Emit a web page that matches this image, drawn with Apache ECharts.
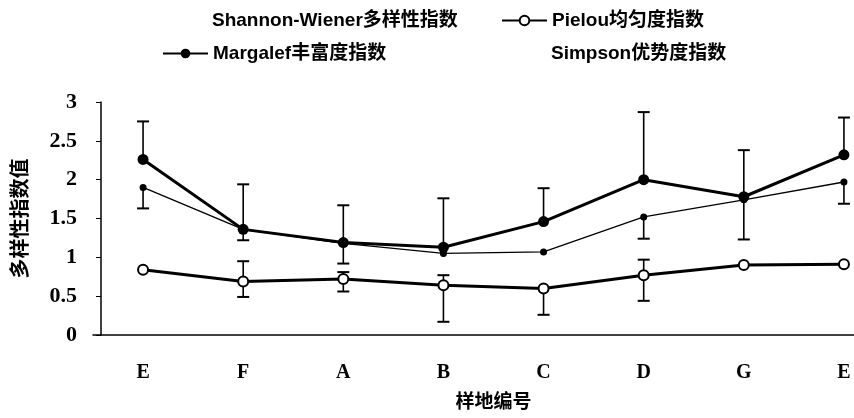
<!DOCTYPE html>
<html>
<head>
<meta charset="utf-8">
<script src="https://cdn.jsdelivr.net/npm/echarts@6/dist/echarts.min.js"></script>
<style>html,body{margin:0;padding:0;background:#fff}#c{width:854px;height:418px}</style>
</head>
<body>
<div id="c"></div>
<script>
const categories = ['E', 'F', 'A', 'B', 'C', 'D', 'G', 'E'];
const seriesNames = ['Shannon-Wiener多样性指数', 'Pielou均匀度指数', 'Margalef丰富度指数', 'Simpson优势度指数'];
const shannon = [2.26, 1.36, 1.19, 1.13, 1.46, 2.00, 1.78, 2.32];
const shannonLow = [null, 1.22, 0.92, null, null, null, null, null];
const shannonHigh = [2.75, 1.94, 1.67, 1.76, 1.89, 2.87, 2.38, 2.80];
const margalef = [1.90, 1.36, 1.18, 1.05, 1.07, 1.52, 1.74, 1.97];
const margalefLow = [1.63, null, null, null, null, 1.24, 1.23, 1.69];
const margalefHigh = [null, null, null, null, null, null, null, null];
const pielou = [0.84, 0.69, 0.72, 0.64, 0.60, 0.77, 0.90, 0.91];
const pielouLow = [null, 0.49, 0.56, 0.17, 0.26, 0.44, null, null];
const pielouHigh = [null, 0.95, 0.81, 0.77, null, 0.97, null, null];
const simpson = [];
const yMin = 0, yMax = 3, yStep = 0.5;

function errData(vals, lo, hi) {
  const out = [];
  vals.forEach((v, i) => {
    const l = lo[i] == null ? v : lo[i];
    const h = hi[i] == null ? v : hi[i];
    if (l !== h) out.push([i, l, h, v]);
  });
  return out;
}
const errAll = [].concat(
  errData(shannon, shannonLow, shannonHigh),
  errData(margalef, margalefLow, margalefHigh),
  errData(pielou, pielouLow, pielouHigh)
);

const latin = '"Liberation Sans", "Noto Sans CJK SC", sans-serif';
const serif = '"Liberation Serif", "Noto Sans CJK SC", serif';
const legendText = { fontSize: 19, fontWeight: 'bold', color: '#000', fontFamily: latin };

const chart = echarts.init(document.getElementById('c'));
chart.setOption({
  animation: false,
  backgroundColor: '#fff',
  grid: { left: 93, width: 801, top: 102, bottom: 83, containLabel: false, outerBoundsMode: 'none' },
  legend: [
    { left: 157, top: 6, itemWidth: 45, itemHeight: 12, selectedMode: false, textStyle: legendText,
      data: [{ name: seriesNames[0], icon: 'none' }] },
    { left: 496, top: 6, itemWidth: 45, itemHeight: 12, selectedMode: false, textStyle: legendText,
      data: [seriesNames[1]] },
    { left: 157, top: 39, itemWidth: 45, itemHeight: 12, selectedMode: false, textStyle: legendText,
      data: [seriesNames[2]] },
    { left: 496, top: 39, itemWidth: 45, itemHeight: 12, selectedMode: false, textStyle: legendText,
      data: [{ name: seriesNames[3], icon: 'none' }] }
  ],
  xAxis: {
    type: 'category',
    data: categories,
    boundaryGap: true,
    axisLine: { lineStyle: { color: '#000', width: 1.5 } },
    axisTick: { show: false },
    axisLabel: { color: '#000', fontSize: 20, fontWeight: 'bold', fontFamily: serif, margin: 28 },
    name: '样地编号',
    nameLocation: 'middle',
    nameGap: 56,
    nameTextStyle: { color: '#000', fontSize: 19, fontWeight: 'bold', fontFamily: '"Noto Sans CJK SC", sans-serif' }
  },
  yAxis: {
    type: 'value',
    min: yMin, max: yMax, interval: yStep,
    offset: -8,
    axisLine: { show: true, lineStyle: { color: '#000', width: 1.5 } },
    axisTick: { show: true, length: 5, lineStyle: { color: '#000' } },
    splitLine: { show: false },
    axisLabel: { color: '#000', fontSize: 22, fontWeight: 'bold', fontFamily: serif, margin: 24, padding: [8, 0, 0, 0] },
    name: '多样性指数值',
    nameLocation: 'middle',
    nameRotate: 90,
    nameGap: 72,
    nameTextStyle: { color: '#000', fontSize: 20, fontWeight: 'bold', fontFamily: '"Noto Sans CJK SC", sans-serif' }
  },
  series: [
    {
      type: 'custom',
      z: 1,
      silent: true,
      data: errAll,
      renderItem: function (params, api) {
        const idx = api.value(0);
        const lo = api.value(1), hi = api.value(2), v = api.value(3);
        const pLo = api.coord([idx, lo]);
        const pHi = api.coord([idx, hi]);
        const w = 6;
        const children = [{
          type: 'line', shape: { x1: pLo[0], y1: pLo[1], x2: pHi[0], y2: pHi[1] },
          style: { stroke: '#000', lineWidth: 1.6 }
        }];
        if (lo !== v) children.push({ type: 'line', shape: { x1: pLo[0] - w, y1: pLo[1], x2: pLo[0] + w, y2: pLo[1] }, style: { stroke: '#000', lineWidth: 2 } });
        if (hi !== v) children.push({ type: 'line', shape: { x1: pHi[0] - w, y1: pHi[1], x2: pHi[0] + w, y2: pHi[1] }, style: { stroke: '#000', lineWidth: 2 } });
        return { type: 'group', children: children };
      }
    },
    {
      name: seriesNames[0], type: 'line', data: shannon,
      symbol: 'circle', symbolSize: 11,
      lineStyle: { color: '#000', width: 3 }, itemStyle: { color: '#000' }
    },
    {
      name: seriesNames[1], type: 'line', data: pielou,
      symbol: 'emptyCircle', symbolSize: 10,
      lineStyle: { color: '#000', width: 3 }, itemStyle: { color: '#000', borderColor: '#000', borderWidth: 3 }
    },
    {
      name: seriesNames[2], type: 'line', data: margalef,
      symbol: 'circle', symbolSize: 7,
      lineStyle: { color: '#000', width: 1.3 }, itemStyle: { color: '#000' }
    },
    {
      name: seriesNames[3], type: 'line', data: simpson,
      symbol: 'none', lineStyle: { color: '#000', width: 1 }, itemStyle: { color: '#000' }
    }
  ]
});
</script>
</body>
</html>
